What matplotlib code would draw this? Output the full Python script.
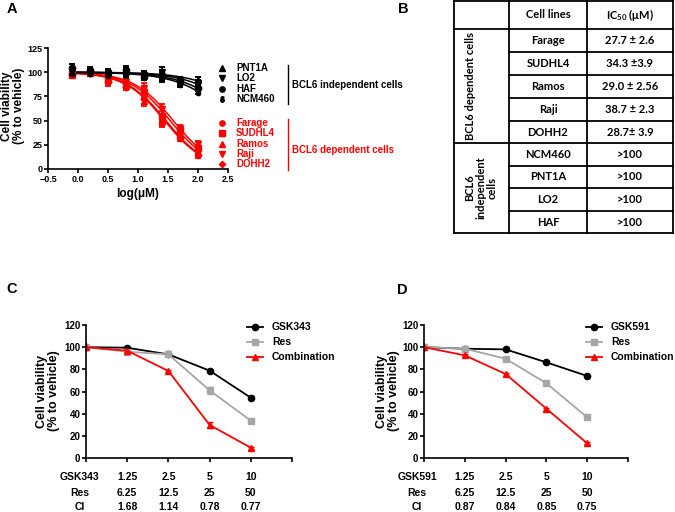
#!/usr/bin/env python3
import numpy as np
import matplotlib
matplotlib.use('Agg')
import matplotlib.pyplot as plt

plt.rcParams['font.family'] = ['Liberation Sans', 'DejaVu Sans']
plt.rcParams['font.weight'] = 'bold'
plt.rcParams['axes.linewidth'] = 1.2
plt.rcParams['mathtext.fontset'] = 'custom'
plt.rcParams['mathtext.rm'] = 'Lato:bold'
plt.rcParams['mathtext.it'] = 'Lato:bold'

RED = '#ff0000'
GREY = '#a6a6a6'
W, H = 675, 512

# ---- Panel A data: viability vs log concentration ----
log_conc = [-0.1, 0.2, 0.5, 0.8, 1.1, 1.4, 1.7, 2.0]

indep_names = ['PNT1A', 'LO2', 'HAF', 'NCM460']
indep_markers = ['^', 'v', 'o', r'$\delta$']
pnt1a = [100, 101, 100, 101, 98, 97, 91, 92]
lo2 = [101, 100, 99, 100, 97, 100, 90, 89]
haf = [104, 102, 99, 102, 95, 97, 92, 84]
ncm460 = [99, 99, 97, 98, 96, 95, 88, 80]
indep_err = [4, 3, 3, 4, 3, 5, 3, 3]
indep_fit_ic50 = [1000, 700, 500, 400]   # fitted, all >100 uM
indep_fit_hill = [1.0, 1.0, 1.0, 1.0]

dep_names = ['Farage', 'SUDHL4', 'Ramos', 'Raji', 'DOHH2']
dep_markers = ['o', 's', '^', 'v', 'D']
farage = [98, 100, 96, 88, 78, 50, 38, 20]
sudhl4 = [97, 99, 93, 87, 80, 55, 40, 22]
ramos = [100, 101, 92, 86, 70, 50, 36, 17]
raji = [99, 100, 95, 90, 84, 62, 42, 26]
dohh2 = [98, 99, 90, 85, 72, 48, 32, 14]
dep_err = [3, 2, 4, 3, 5, 5, 3, 3]
dep_fit_hill = [1.3, 1.3, 1.3, 1.3, 1.3]

# ---- Panel B data: IC50 table ----
table_lines = ['Farage', 'SUDHL4', 'Ramos', 'Raji', 'DOHH2',
               'NCM460', 'PNT1A', 'LO2', 'HAF']
table_ic50 = ['27.7 \u00b1 2.6', '34.3 \u00b13.9', '29.0 \u00b1 2.56',
              '38.7 \u00b1 2.3', '28.7\u00b1 3.9',
              '>100', '>100', '>100', '>100']
dep_ic50 = [27.7, 34.3, 29.0, 38.7, 28.7]

# ---- Panel C data ----
gsk343_dose = ['1.25', '2.5', '5', '10']
res_dose_c = ['6.25', '12.5', '25', '50']
ci_c = ['1.68', '1.14', '0.78', '0.77']
gsk343_viab = [100, 99.5, 93.5, 78.8, 54.4]
gsk343_err = [0, 0.5, 0.5, 1, 1.5]
res_viab_c = [100, 95.9, 93.5, 61, 33.7]
res_err_c = [0, 1, 1, 3, 1]
combo_viab_c = [100, 96.8, 78.5, 29.8, 9.3]
combo_err_c = [0, 1, 1, 3, 0.8]

# ---- Panel D data ----
gsk591_dose = ['1.25', '2.5', '5', '10']
res_dose_d = ['6.25', '12.5', '25', '50']
ci_d = ['0.87', '0.84', '0.85', '0.75']
gsk591_viab = [100, 98.6, 98, 86.3, 74]
gsk591_err = [0, 0.5, 0.5, 0.8, 0.8]
res_viab_d = [100, 98.6, 89.6, 67.4, 36.7]
res_err_d = [0, 0.5, 0.8, 1, 1]
combo_viab_d = [100, 92.6, 75.8, 44.5, 13.2]
combo_err_d = [0, 0.8, 0.8, 1, 1]


def rect(l, t, r, b):
    return [l / W, 1 - b / H, (r - l) / W, (b - t) / H]


def hill(x, ic50, slope, top=100.0, bottom=0.0):
    return bottom + (top - bottom) / (1 + 10 ** ((x - np.log10(ic50)) * slope))


fig = plt.figure(figsize=(6.75, 5.12), dpi=100)
over = fig.add_axes([0, 0, 1, 1])
over.set_xlim(0, W)
over.set_ylim(H, 0)
over.axis('off')
over.set_zorder(10)

# ================= Panel A =================
axA = fig.add_axes(rect(48, 48, 228, 169))
xfit = np.linspace(-0.1, 2.0, 200)
for vals, mk, ic50, s in zip([farage, sudhl4, ramos, raji, dohh2], dep_markers,
                             dep_ic50, dep_fit_hill):
    axA.plot(xfit, hill(xfit, ic50, s), color=RED, lw=1.1)
    axA.errorbar(log_conc, vals, yerr=dep_err, marker=mk,
                 ls='none', color=RED, ms=4 if mk != 'D' else 3.5,
                 capsize=2.5, elinewidth=1.3, capthick=1.3)
for vals, mk, ic50, s in zip([pnt1a, lo2, haf, ncm460], indep_markers,
                             indep_fit_ic50, indep_fit_hill):
    axA.plot(xfit, hill(xfit, ic50, s), color='black', lw=1.1)
    axA.errorbar(log_conc, vals, yerr=indep_err, marker=mk, ls='none',
                 color='black', ms=4.5, capsize=2.5, elinewidth=1.4,
                 capthick=1.4)
axA.set_xlim(-0.5, 2.5)
axA.set_ylim(0, 125)
axA.set_xticks(np.arange(-0.5, 2.51, 0.5))
axA.set_yticks(range(0, 126, 25))
axA.spines[['top', 'right']].set_visible(False)
axA.tick_params(direction='out', length=3, width=1.2, labelsize=6.5, pad=1)
axA.set_xlabel('log(\u03bcM)', fontsize=8.5, fontweight='bold', labelpad=3)
fig.text(13 / W, 1 - 106 / H, 'Cell viability\n(% to vehicle)', rotation=90,
         ha='center', va='center', fontsize=8.5, linespacing=1.1,
         multialignment='center')

# legend of panel A
for i, (name, mk) in enumerate(zip(indep_names, indep_markers)):
    y = 68 + i * 10.3
    over.plot(222, y, marker=mk, color='black', ms=3.8, ls='none')
    over.text(236, y, name, ha='left', va='center', fontsize=7)
for i, (name, mk) in enumerate(zip(dep_names, dep_markers)):
    y = 123 + i * 10.3
    over.plot(222, y, marker=mk, color=RED, ms=3.8 if mk != 'D' else 3.2,
              ls='none')
    over.text(236, y, name, ha='left', va='center', fontsize=7, color=RED)
over.plot([288, 288], [65, 104], color='black', lw=1)
over.text(292, 85, 'BCL6 independent cells', ha='left', va='center', fontsize=7)
over.plot([288, 288], [119, 170], color=RED, lw=1)
over.text(292, 150, 'BCL6 dependent cells', ha='left', va='center', fontsize=7,
          color=RED)

# ================= Panel B (table) =================
col_edges = [454, 509, 587, 673]
row_edges = [1, 29, 52, 75, 98, 121, 143, 166, 188, 211, 233]
tkw = dict(family=['Lato', 'DejaVu Sans'], fontweight='bold', fontsize=8,
           ha='center', va='center')
lw_t = 1.3
for x in col_edges:
    over.plot([x, x], [row_edges[0], row_edges[-1]], color='black', lw=lw_t)
for j, y in enumerate(row_edges):
    x0 = col_edges[0] if j in (0, 1, 6, len(row_edges) - 1) else col_edges[1]
    over.plot([x0, col_edges[-1]], [y, y], color='black', lw=lw_t)
xc1 = (col_edges[1] + col_edges[2]) / 2
xc2 = (col_edges[2] + col_edges[3]) / 2
over.text(xc1, (row_edges[0] + row_edges[1]) / 2, 'Cell lines', **tkw)
over.text(xc2, (row_edges[0] + row_edges[1]) / 2, 'IC$_{50}$ (\u03bcM)', **tkw)
for k, (name, ic) in enumerate(zip(table_lines, table_ic50)):
    yc = (row_edges[k + 1] + row_edges[k + 2]) / 2
    over.text(xc1, yc, name, **tkw)
    over.text(xc2, yc, ic, **tkw)
over.text(471, (row_edges[1] + row_edges[6]) / 2, 'BCL6 dependent cells',
          rotation=90, **tkw)
over.text(481, (row_edges[6] + row_edges[-1]) / 2, 'BCL6\nindependent\ncells',
          rotation=90, linespacing=1.0, multialignment='center', **tkw)


# ================= Panels C and D =================
def combo_panel(box, drug, drug_dose, res_dose, ci, drug_v, drug_e, res_v, res_e,
                comb_v, comb_e, label_x, leg_x, ylab_x):
    ax = fig.add_axes(box)
    x = np.arange(len(drug_v))
    ax.errorbar(x, drug_v, yerr=drug_e, color='black', marker='o', ms=4.5,
                lw=1.3, capsize=2.5)
    ax.errorbar(x, res_v, yerr=res_e, color=GREY, marker='s', ms=4.5, lw=1.3,
                capsize=2.5)
    ax.errorbar(x, comb_v, yerr=comb_e, color=RED, marker='^', ms=4.5, lw=1.3,
                capsize=2.5)
    ax.set_xlim(0, 5)
    ax.set_ylim(0, 120)
    ax.set_xticks(range(6))
    ax.set_xticklabels([])
    ax.set_yticks(range(0, 121, 20))
    ax.spines[['top', 'right']].set_visible(False)
    ax.tick_params(direction='out', length=3, width=1.2, labelsize=7, pad=1)
    tr = ax.get_xaxis_transform()
    rows = [(drug, drug_dose), ('Res', res_dose), ('CI', ci)]
    for (name, vals), yr in zip(rows, [-0.143, -0.263, -0.368]):
        ax.text(label_x, yr, name, transform=tr, ha='center', va='center',
                fontsize=7.5)
        for i, v in enumerate(vals):
            ax.text(i + 1, yr, v, transform=tr, ha='center', va='center',
                    fontsize=7.5)
    fig.text(ylab_x / W, 1 - 391 / H, 'Cell viability\n(% to vehicle)',
             rotation=90, ha='center', va='center', fontsize=9,
             linespacing=1.1, multialignment='center')
    # legend
    for i, (name, c, mk) in enumerate([(drug, 'black', 'o'), ('Res', GREY, 's'),
                                       ('Combination', RED, '^')]):
        y = 327 + i * 15
        over.plot([leg_x, leg_x + 16], [y, y], color=c, lw=1.3)
        over.plot(leg_x + 8, y, marker=mk, color=c, ms=4.5)
        over.text(leg_x + 25, y, name, ha='left', va='center', fontsize=7.5)
    return ax


combo_panel(rect(86, 325, 292, 458), 'GSK343', gsk343_dose, res_dose_c, ci_c,
            gsk343_viab, gsk343_err, res_viab_c, res_err_c, combo_viab_c,
            combo_err_c, -0.15, 247, 48)
combo_panel(rect(424, 325, 628, 458), 'GSK591', gsk591_dose, res_dose_d, ci_d,
            gsk591_viab, gsk591_err, res_viab_d, res_err_d, combo_viab_d,
            combo_err_d, -0.17, 586, 388)

# panel letters
for letter, (px, py) in zip('ABCD', [(12, 9), (403, 9), (12, 289), (402, 290)]):
    fig.text(px / W, 1 - py / H, letter, ha='center', va='center', fontsize=10.5,
             fontweight='bold')

fig.savefig('out.png', dpi=100)
